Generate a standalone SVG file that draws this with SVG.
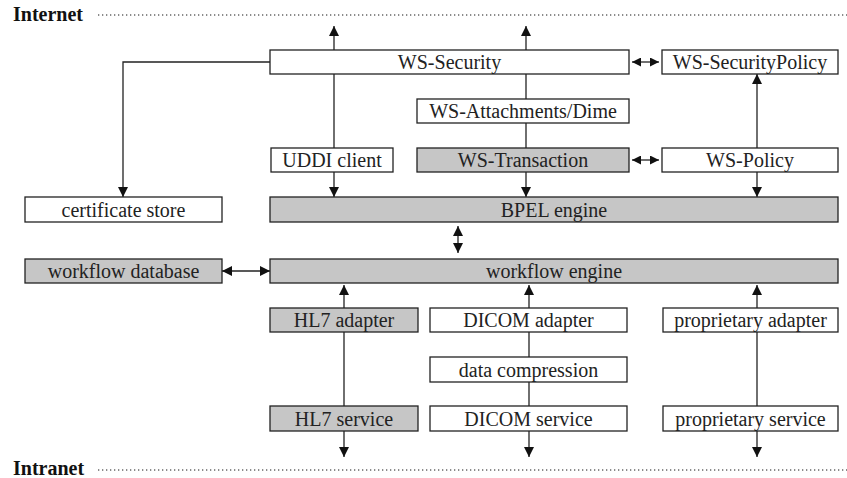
<svg xmlns="http://www.w3.org/2000/svg" width="847" height="478" viewBox="0 0 847 478">
<style>
.b{stroke:#222;stroke-width:1.3}
.w{fill:#fff}
.g{fill:#c6c6c6}
.t{font-family:"Liberation Serif",serif;font-size:20px;fill:#222;text-anchor:middle}
.h{font-family:"Liberation Serif",serif;font-size:20px;font-weight:bold;fill:#111}
.c{fill:none;stroke:#222;stroke-width:1.3}
.dot{stroke:#666;stroke-width:1.3;stroke-dasharray:1.3 2.7}
</style>
<defs>
<marker id="a" viewBox="0 0 10 10" refX="10" refY="5" markerWidth="10" markerHeight="10" markerUnits="userSpaceOnUse" orient="auto-start-reverse"><path d="M0,0 L10,5 L0,10 z" fill="#111"/></marker>
<marker id="s" viewBox="0 0 10 10" refX="10" refY="5" markerWidth="9" markerHeight="9" markerUnits="userSpaceOnUse" orient="auto-start-reverse"><path d="M0,0 L10,5 L0,10 z" fill="#111"/></marker>
</defs>
<rect width="847" height="478" fill="#fff"/>
<g id="zones">
<text class="h" x="13" y="21">Internet</text>
<line class="dot" x1="98" y1="15" x2="847" y2="15"/>
<text class="h" x="13" y="475">Intranet</text>
<line class="dot" x1="98" y1="470" x2="847" y2="470"/>
</g>
<g id="connectors">
<path class="c" d="M270,62 H123 V197" marker-end="url(#a)"/>
<path class="c" d="M334,50 V26" marker-end="url(#a)"/>
<path class="c" d="M334,74 V148"/>
<path class="c" d="M334,172 V197" marker-end="url(#a)"/>
<path class="c" d="M526,50 V26" marker-end="url(#a)"/>
<path class="c" d="M526,74 V99"/>
<path class="c" d="M526,123 V148"/>
<path class="c" d="M526,172 V197" marker-end="url(#a)"/>
<path class="c" d="M757,148 V74" marker-end="url(#a)"/>
<path class="c" d="M757,172 V197" marker-end="url(#a)"/>
<path class="c" d="M632,62 H659" marker-start="url(#s)" marker-end="url(#s)"/>
<path class="c" d="M632,160 H659" marker-start="url(#s)" marker-end="url(#s)"/>
<path class="c" d="M458,226 V253" marker-start="url(#a)" marker-end="url(#a)"/>
<path class="c" d="M222,271 H270" marker-start="url(#a)" marker-end="url(#a)"/>
<path class="c" d="M344,308 V285" marker-end="url(#a)"/>
<path class="c" d="M344,332 V406"/>
<path class="c" d="M344,431 V457" marker-end="url(#a)"/>
<path class="c" d="M529,308 V285" marker-end="url(#a)"/>
<path class="c" d="M529,332 V357"/>
<path class="c" d="M529,382 V406"/>
<path class="c" d="M529,431 V457" marker-end="url(#a)"/>
<path class="c" d="M757,308 V285" marker-end="url(#a)"/>
<path class="c" d="M757,332 V406"/>
<path class="c" d="M757,431 V457" marker-end="url(#a)"/>
</g>
<g id="ws-security"><rect class="b w" x="270" y="50" width="359" height="24"/><text class="t" x="449.5" y="69">WS-Security</text></g>
<g id="ws-securitypolicy"><rect class="b w" x="662" y="50" width="176" height="24"/><text class="t" x="750" y="69">WS-SecurityPolicy</text></g>
<g id="ws-attachments"><rect class="b w" x="417" y="99" width="212" height="24"/><text class="t" x="523" y="118">WS-Attachments/Dime</text></g>
<g id="uddi-client"><rect class="b w" x="271" y="148" width="122" height="24"/><text class="t" x="332" y="167">UDDI client</text></g>
<g id="ws-transaction"><rect class="b g" x="417" y="148" width="212" height="24"/><text class="t" x="523" y="167">WS-Transaction</text></g>
<g id="ws-policy"><rect class="b w" x="662" y="148" width="176" height="24"/><text class="t" x="750" y="167">WS-Policy</text></g>
<g id="certificate-store"><rect class="b w" x="25" y="197" width="197" height="25"/><text class="t" x="123.5" y="216.5">certificate store</text></g>
<g id="bpel-engine"><rect class="b g" x="270" y="197" width="568" height="25"/><text class="t" x="554" y="216.5">BPEL engine</text></g>
<g id="workflow-database"><rect class="b g" x="25" y="259" width="197" height="24"/><text class="t" x="123.5" y="278">workflow database</text></g>
<g id="workflow-engine"><rect class="b g" x="270" y="259" width="568" height="24"/><text class="t" x="554" y="278">workflow engine</text></g>
<g id="hl7-adapter"><rect class="b g" x="270" y="308" width="148" height="24"/><text class="t" x="344" y="327">HL7 adapter</text></g>
<g id="dicom-adapter"><rect class="b w" x="430" y="308" width="197" height="24"/><text class="t" x="528.5" y="327">DICOM adapter</text></g>
<g id="proprietary-adapter"><rect class="b w" x="663" y="308" width="175" height="24"/><text class="t" x="750.5" y="327">proprietary adapter</text></g>
<g id="data-compression"><rect class="b w" x="430" y="357" width="197" height="25"/><text class="t" x="528.5" y="376.5">data compression</text></g>
<g id="hl7-service"><rect class="b g" x="270" y="406" width="148" height="25"/><text class="t" x="344" y="425.5">HL7 service</text></g>
<g id="dicom-service"><rect class="b w" x="430" y="406" width="197" height="25"/><text class="t" x="528.5" y="425.5">DICOM service</text></g>
<g id="proprietary-service"><rect class="b w" x="663" y="406" width="175" height="25"/><text class="t" x="750.5" y="425.5">proprietary service</text></g>
</svg>
